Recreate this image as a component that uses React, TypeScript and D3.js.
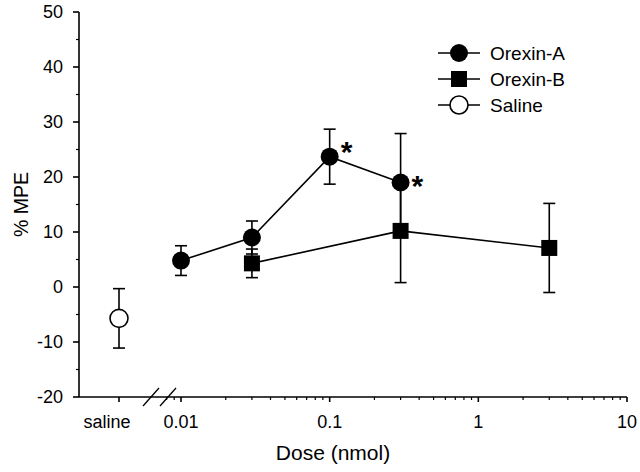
import React from "react";
import * as d3 from "d3";

const doseA = [0.01, 0.03, 0.1, 0.3];
const meanA = [4.8, 9.0, 23.7, 19.0];
const semA = [2.7, 3.0, 5.0, 8.9];
const sigA = [false, false, true, true];

const doseB = [0.03, 0.3, 3];
const meanB = [4.3, 10.2, 7.1];
const semB = [2.6, 9.4, 8.1];

const salineMean = [-5.7];
const salineSem = [5.4];

const xMajor = [0.01, 0.1, 1, 10];
const xMajorLabels = ["0.01", "0.1", "1", "10"];
const yMajor = [-20, -10, 0, 10, 20, 30, 40, 50];
const legendItems = ["Orexin-A", "Orexin-B", "Saline"];

const W = 640;
const H = 472;
const FONT = "Arial, 'Liberation Sans', Helvetica, sans-serif";

export default function App() {
  const x = d3.scaleLog().domain([0.01, 10]).range([181, 627]);
  const y = d3.scaleLinear().domain([-20, 50]).range([397, 12]);
  const axisX = 79;
  const axisY = y(-20);
  const salineX = x(0.01) - 62;

  const minorX: number[] = [0.008, 0.009];
  for (let e = -2; e < 1; e++) {
    for (let k = 2; k <= 9; k++) minorX.push(k * Math.pow(10, e));
  }
  const minorY: number[] = [];
  for (let v = -15; v <= 45; v += 10) minorY.push(v);

  const lineGen = d3
    .line<[number, number]>()
    .x((d) => x(d[0]))
    .y((d) => y(d[1]));

  const ptsA = doseA.map((d, i) => [d, meanA[i]] as [number, number]);
  const ptsB = doseB.map((d, i) => [d, meanB[i]] as [number, number]);

  const capW = 6;
  const SW = 1.6;
  const errBar = (cx: number, m: number, s: number, key: string) => (
    <g key={key} stroke="#000" strokeWidth={SW}>
      <line x1={cx} x2={cx} y1={y(m + s)} y2={y(m - s)} />
      <line x1={cx - capW} x2={cx + capW} y1={y(m + s)} y2={y(m + s)} />
      <line x1={cx - capW} x2={cx + capW} y1={y(m - s)} y2={y(m - s)} />
    </g>
  );

  const r = 9;
  const sq = 16;

  const breakX1 = 151;
  const breakX2 = 168;
  const sigDx = [0, 0, 11, 11];
  const sigDy = [0, 0, -12, -4];

  return (
    <svg
      width={W}
      height={H}
      style={{ position: "absolute", left: 0, top: 0, background: "#fff" }}
      fontFamily={FONT}
    >
      <rect x={0} y={0} width={W} height={H} fill="#fff" />
      {/* Y axis */}
      <line x1={axisX} x2={axisX} y1={y(50)} y2={axisY} stroke="#000" strokeWidth={SW} />
      {yMajor.map((v) => (
        <g key={"ym" + v}>
          <line x1={axisX - 6} x2={axisX} y1={y(v)} y2={y(v)} stroke="#000" strokeWidth={SW} />
          <text x={axisX - 16} y={y(v)} textAnchor="end" dominantBaseline="central" fontSize={18}>
            {v}
          </text>
        </g>
      ))}
      {minorY.map((v) => (
        <line key={"yn" + v} x1={axisX - 3} x2={axisX} y1={y(v)} y2={y(v)} stroke="#000" strokeWidth={1.2} />
      ))}
      <text
        transform={`translate(21,${(y(50) + axisY) / 2}) rotate(-90)`}
        textAnchor="middle"
        dominantBaseline="central"
        fontSize={19.5}
      >
        % MPE
      </text>

      {/* X axis */}
      <line x1={axisX} x2={x(10)} y1={axisY} y2={axisY} stroke="#000" strokeWidth={SW} />
      <line x1={salineX} x2={salineX} y1={axisY} y2={axisY + 5} stroke="#000" strokeWidth={SW} />
      {xMajor.map((v, i) => (
        <g key={"xm" + v}>
          <line x1={x(v)} x2={x(v)} y1={axisY} y2={axisY + 5} stroke="#000" strokeWidth={SW} />
          <text x={x(v)} y={axisY + 25} textAnchor="middle" dominantBaseline="central" fontSize={18}>
            {xMajorLabels[i]}
          </text>
        </g>
      ))}
      {minorX.map((v) => (
        <line key={"xn" + v} x1={x(v)} x2={x(v)} y1={axisY} y2={axisY + 3} stroke="#000" strokeWidth={1.2} />
      ))}
      <text x={salineX - 12} y={axisY + 25} textAnchor="middle" dominantBaseline="central" fontSize={18}>
        saline
      </text>
      {/* axis break */}
      {[breakX1, breakX2].map((bx) => (
        <line key={"br" + bx} x1={bx - 8} x2={bx + 8} y1={axisY + 9} y2={axisY - 9} stroke="#000" strokeWidth={1.3} />
      ))}
      <text x={333} y={axisY + 55} textAnchor="middle" dominantBaseline="central" fontSize={21}>
        Dose (nmol)
      </text>

      {/* lines */}
      <path d={lineGen(ptsA) || ""} fill="none" stroke="#000" strokeWidth={SW} />
      <path d={lineGen(ptsB) || ""} fill="none" stroke="#000" strokeWidth={SW} />

      {/* error bars */}
      {doseA.map((d, i) => errBar(x(d), meanA[i], semA[i], "ea" + i))}
      {doseB.map((d, i) => errBar(x(d), meanB[i], semB[i], "eb" + i))}
      {salineMean.map((m, i) => errBar(salineX, m, salineSem[i], "es" + i))}

      {/* markers */}
      {doseB.map((d, i) => (
        <rect key={"mb" + i} x={x(d) - sq / 2} y={y(meanB[i]) - sq / 2} width={sq} height={sq} fill="#000" />
      ))}
      {doseA.map((d, i) => (
        <circle key={"ma" + i} cx={x(d)} cy={y(meanA[i])} r={r} fill="#000" />
      ))}
      {salineMean.map((m, i) => (
        <circle key={"ms" + i} cx={salineX} cy={y(m)} r={r} fill="#fff" stroke="#000" strokeWidth={SW} />
      ))}

      {/* significance */}
      {doseA.map((d, i) =>
        sigA[i] ? (
          <text
            key={"sig" + i}
            x={x(d) + sigDx[i]}
            y={y(meanA[i]) + sigDy[i] + 17}
            fontSize={30}
            fontWeight="bold"
          >
            *
          </text>
        ) : null
      )}

      {/* legend */}
      {legendItems.map((name, i) => {
        const ly = 53 + i * 26;
        const cx = 459;
        return (
          <g key={"lg" + i}>
            <line x1={438} x2={480} y1={ly} y2={ly} stroke="#000" strokeWidth={SW} />
            {i === 0 && <circle cx={cx} cy={ly} r={r} fill="#000" />}
            {i === 1 && <rect x={cx - sq / 2} y={ly - sq / 2} width={sq} height={sq} fill="#000" />}
            {i === 2 && <circle cx={cx} cy={ly} r={r} fill="#fff" stroke="#000" strokeWidth={SW} />}
            <text x={490} y={ly} dominantBaseline="central" fontSize={19}>
              {name}
            </text>
          </g>
        );
      })}
    </svg>
  );
}
